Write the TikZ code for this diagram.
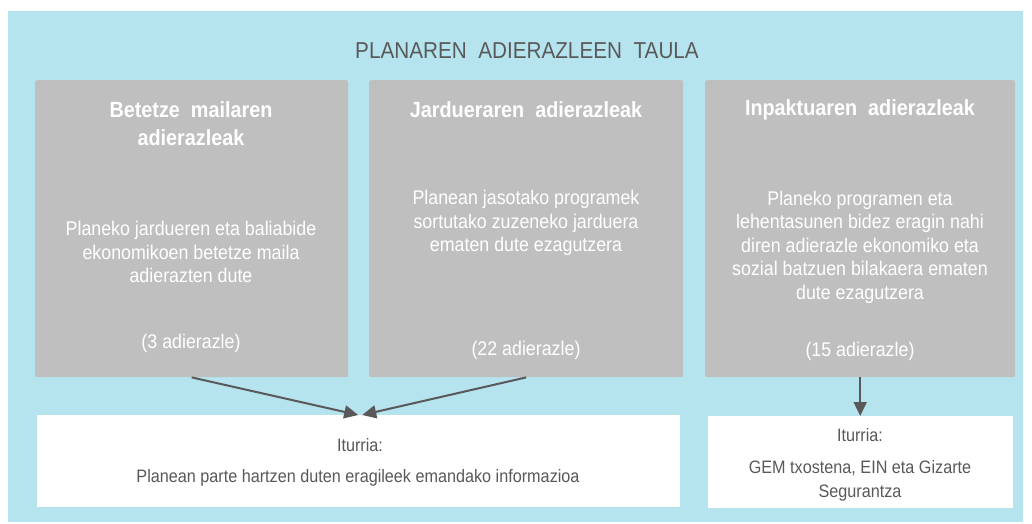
\documentclass[tikz,border=0pt]{standalone}
\usepackage{fontspec}
\setmainfont[FakeStretch=0.9]{Liberation Sans}
\usetikzlibrary{arrows.meta}
\definecolor{bgblue}{RGB}{181,228,239}
\definecolor{boxgray}{RGB}{191,191,191}
\definecolor{ink}{RGB}{89,89,89}
\begin{document}
\begin{tikzpicture}[x=1pt,y=-1pt,
  graybox/.style={fill=boxgray, rounded corners=2pt, inner sep=0pt, anchor=north west, minimum height=297pt},
  whitebox/.style={fill=white, inner sep=0pt, anchor=north west, minimum height=92pt},
  heading/.style={text=white, font=\fontsize{22}{28}\selectfont\bfseries, align=center, inner sep=0pt},
  body/.style={text=white, font=\fontsize{19.8}{23.5}\selectfont, align=center, inner sep=0pt},
  srctext/.style={text=ink, font=\fontsize{18}{24}\selectfont, align=center, inner sep=0pt},
  conn/.style={draw=ink, line width=2pt, -{Triangle[length=14pt,width=13pt]}}
]
\useasboundingbox (0,0) rectangle (1032,524);
\fill[bgblue] (8,11) rectangle (1023,522);

\node[text=ink, font=\fontsize{23}{25}\selectfont, inner sep=0pt] (title) at (527,51) {PLANAREN\ \ ADIERAZLEEN\ \ TAULA};

\node[graybox, minimum width=313pt] (b1) at (35,80) {};
\node[graybox, minimum width=314pt] (b2) at (369,80) {};
\node[graybox, minimum width=310pt] (b3) at (705,80) {};

\node[whitebox, minimum width=643pt] (w1) at (37,415) {};
\node[whitebox, minimum width=305pt] (w2) at (708,416) {};

\node[heading] (h1) at (191,124) {Betetze\ \ mailaren\\adierazleak};
\node[heading] (h2) at (526,110) {Jardueraren\ \ adierazleak};
\node[heading] (h3) at (860,110) {Inpaktuaren\ \ adierazleak};

\node[body] (t1) at (191,252) {Planeko jardueren eta baliabide\\ekonomikoen betetze maila\\adierazten dute};
\node[body] (n1) at (191,343) {(3 adierazle)};
\node[body] (t2) at (526,223) {Planean jasotako programek\\sortutako zuzeneko jarduera\\ematen dute ezagutzera};
\node[body] (n2) at (526,350) {(22 adierazle)};
\node[body] (t3) at (860,247) {Planeko programen eta\\lehentasunen bidez eragin nahi\\diren adierazle ekonomiko eta\\sozial batzuen bilakaera ematen\\dute ezagutzera};
\node[body] (n3) at (860,351) {(15 adierazle)};

\node[srctext] (i1) at (360,445) {Iturria:};
\node[srctext] (s1) at (358,478) {Planean parte hartzen duten eragileek emandako informazioa};
\node[srctext] (i2) at (860,435) {Iturria:};
\node[srctext] (s2) at (860,481) {GEM txostena, EIN eta Gizarte\\Segurantza};

\draw[conn] (b1.south) -- ([xshift=-0.5pt]w1.north);
\draw[conn] (b2.south) -- ([xshift=3.5pt]w1.north);
\draw[conn] (b3.south) -- (b3.south |- w2.north);
\end{tikzpicture}
\end{document}
